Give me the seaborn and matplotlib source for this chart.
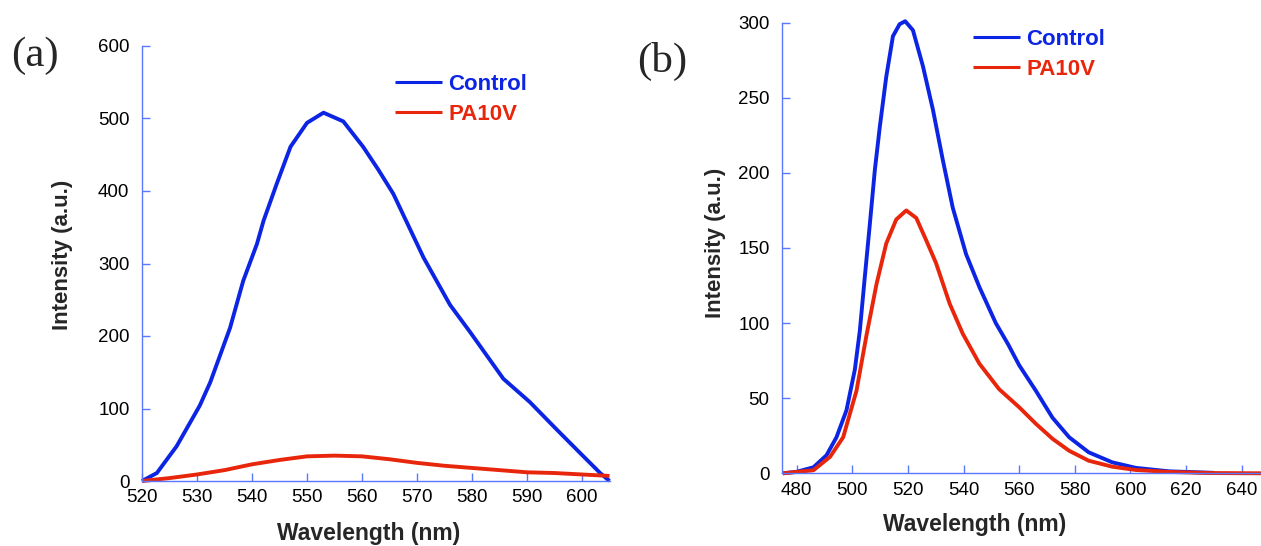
import matplotlib
matplotlib.use("Agg")
import matplotlib.pyplot as plt
import seaborn as sns
import pandas as pd

# ---- data ----
a_ctrl_x = [520, 522.7, 526.3, 530.5, 532.4, 536, 538.4, 540.9, 542.1, 544.5, 547, 550, 553,
            556.6, 560.2, 563, 565.7, 571.2, 576, 579.6, 585.7, 590.5, 595.4, 599.6, 603.3, 605]
a_ctrl_y = [0, 11, 48, 104, 136, 211, 276, 327, 359, 410, 461, 494, 508,
            496, 461, 429, 396, 308, 243, 206, 141, 109, 71, 39, 11, 0]
a_pa_x = [520, 525, 530, 535, 540, 545, 550, 555, 560, 565, 570, 575, 580, 585, 590, 595, 600, 605]
a_pa_y = [0, 4, 9, 15, 23, 29, 34, 35, 34, 30, 25, 21, 18, 15, 12, 11, 9, 7]

b_ctrl_x = [475, 480, 486, 490.7, 494.3, 497.9, 500.9, 502.7, 504.5, 506.3, 508.1, 509.9, 512.2,
            514.6, 517, 519, 521.8, 525.4, 529, 532.5, 536.1, 540.9, 545.7, 551.6, 556, 560, 566,
            572, 578, 585, 593.5, 602, 614, 630]
b_ctrl_y = [0, 1, 4, 12, 24, 42, 69, 95, 131, 166, 202, 231, 264,
            291, 299, 301, 295, 271, 242, 209, 177, 146, 124, 100, 86, 72, 55,
            37, 24, 14, 7.3, 3.6, 1.3, 0.3]
b_pa_x = [475, 486, 492, 496.7, 501.5, 505, 508.7, 512.2, 515.8, 519.4, 523, 526.6, 530.1, 535,
          539.7, 545.7, 552.8, 560, 566, 572, 578, 585, 593.5, 602, 614, 628, 647]
b_pa_y = [0, 2, 11, 24, 55, 91, 126, 153, 169, 175, 170, 155, 140, 113,
          93, 73, 56, 44, 33, 23, 15, 8.4, 4.4, 2.2, 0.9, 0.2, 0]

series_names = ["Control", "PA10V"]
a_xticks = [520, 530, 540, 550, 560, 570, 580, 590, 600]
a_yticks = [0, 100, 200, 300, 400, 500, 600]
b_xticks = [480, 500, 520, 540, 560, 580, 600, 620, 640]
b_yticks = [0, 50, 100, 150, 200, 250, 300]

BLUE = "#0c24e4"
RED = "#e8260c"
SPINE = "#5a78ff"

sns.set_style("white")
plt.rcParams["font.family"] = ["Liberation Sans", "DejaVu Sans"]

W, H = 1261, 546
fig = plt.figure(figsize=(W / 100, H / 100), dpi=100)
ax1 = fig.add_axes([142 / W, 1 - 481 / H, 467.5 / W, 435 / H])
ax2 = fig.add_axes([782 / W, 1 - 473.3 / H, (W - 782) / W, 450.6 / H])

def frame(x1, y1, x2, y2):
    return pd.concat([
        pd.DataFrame({"Wavelength": x1, "Intensity": y1, "Sample": series_names[0]}),
        pd.DataFrame({"Wavelength": x2, "Intensity": y2, "Sample": series_names[1]}),
    ], ignore_index=True)

df_a = frame(a_ctrl_x, a_ctrl_y, a_pa_x, a_pa_y)
df_b = frame(b_ctrl_x, b_ctrl_y, b_pa_x, b_pa_y)
pal = {series_names[0]: BLUE, series_names[1]: RED}

for ax, df, xl, yl, xt, yt in [
    (ax1, df_a, (520, 605), (0, 600), a_xticks, a_yticks),
    (ax2, df_b, (474.7, 647), (0, 300), b_xticks, b_yticks),
]:
    sns.lineplot(data=df, x="Wavelength", y="Intensity", hue="Sample", palette=pal,
                 linewidth=2.8, ax=ax, sort=False, estimator=None)
    ax.set_xlim(*xl)
    ax.set_ylim(*yl)
    ax.set_xticks(xt)
    ax.set_yticks(yt)
    for s in ["top", "right"]:
        ax.spines[s].set_visible(False)
    for s in ["left", "bottom"]:
        ax.spines[s].set_color(SPINE)
        ax.spines[s].set_linewidth(1.0)
    ax.tick_params(axis="both", direction="in", length=6, width=1.0, color=SPINE,
                   labelsize=13.5, labelcolor="black", bottom=True, left=True)
    ax.tick_params(axis="x", pad=6)
    ax.tick_params(axis="y", pad=9)
    ax.set_xlabel("Wavelength (nm)", fontsize=16.5, fontweight="bold")
    ax.set_ylabel("Intensity (a.u.)", fontsize=16, fontweight="bold")
    ax.patch.set_alpha(0)
    for sp in ax.spines.values():
        sp.set_clip_on(False)
    for ln in ax.lines:
        ln.set_clip_on(False)
        ln.set_solid_capstyle("butt")

ax1.xaxis.set_label_coords(0.4845, -0.094)
ax1.yaxis.set_label_coords(-0.148, 0.52)
ax2.xaxis.set_label_coords(0.403, -0.087)
ax2.yaxis.set_label_coords(-0.117, 0.511)

legend_kw = dict(loc="upper left", frameon=False, handlelength=2.1, handletextpad=0.3,
                 labelspacing=0.4, borderpad=0, borderaxespad=0,
                 prop={"weight": "bold", "size": 16}, labelcolor="linecolor")
leg1 = ax1.legend(bbox_to_anchor=(395 / W, 1 - 74 / H), bbox_transform=fig.transFigure, **legend_kw)
leg2 = ax2.legend(bbox_to_anchor=(973 / W, 1 - 29 / H), bbox_transform=fig.transFigure, **legend_kw)
for leg in (leg1, leg2):
    for h in leg.legend_handles:
        h.set_linewidth(2.2)

fig.text(35 / W, 1 - 56 / H, "(a)", fontsize=31, ha="center", va="center",
         family=["Liberation Serif", "DejaVu Serif"])
fig.text(662 / W, 1 - 61 / H, "(b)", fontsize=31, ha="center", va="center",
         family=["Liberation Serif", "DejaVu Serif"])

fig.savefig("out.png", dpi=100)
